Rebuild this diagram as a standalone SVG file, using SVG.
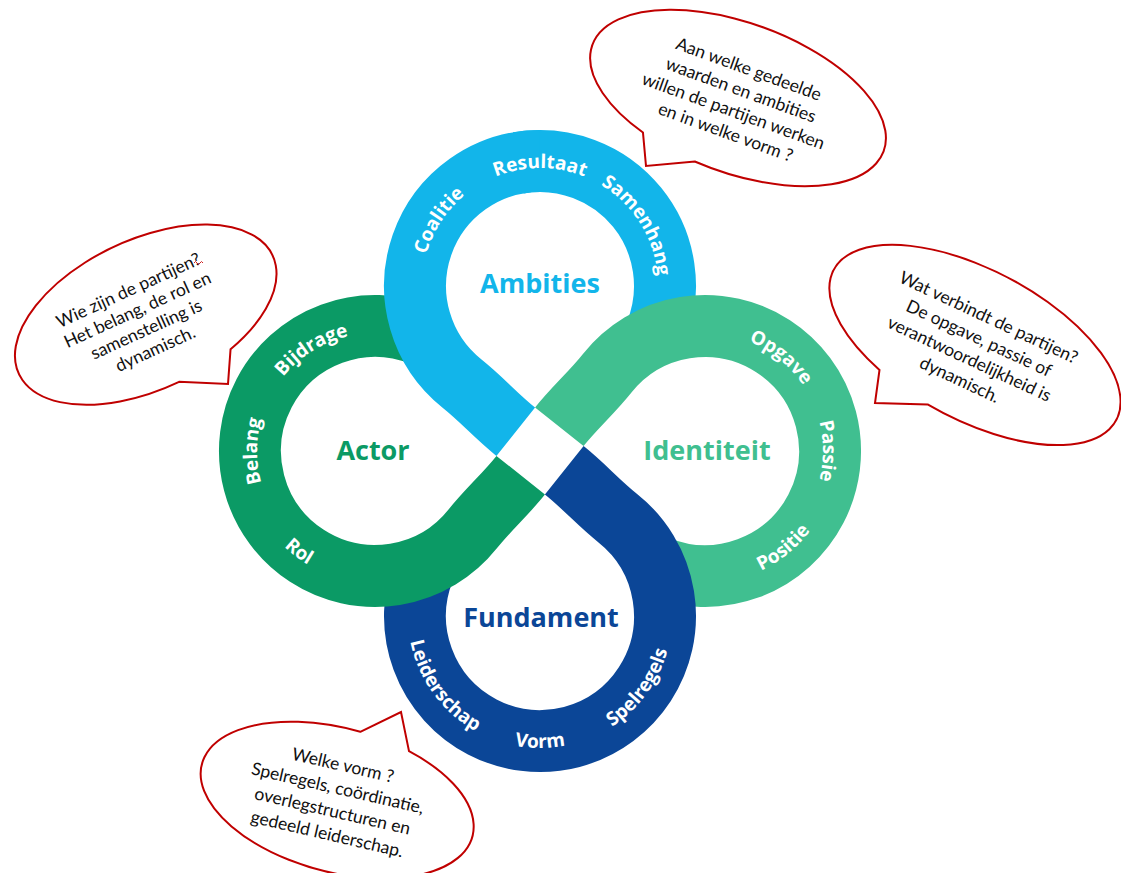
<svg xmlns="http://www.w3.org/2000/svg" xmlns:xlink="http://www.w3.org/1999/xlink" width="1121" height="873" viewBox="0 0 1121 873">
<style>
  .band{fill:none;stroke-width:62;stroke-linecap:butt}
  .amb{stroke:#12b5ea}
  .ide{stroke:#40bf90}
  .act{stroke:#0b9a65}
  .fun{stroke:#0b4697}
  .al{font-family:"Open Sans","Noto Sans",sans-serif;font-weight:700;font-size:19px;fill:#fff;text-anchor:middle}
  .title{font-family:"Open Sans","Noto Sans",sans-serif;font-weight:700;font-size:27px;text-anchor:middle}
  .bubble{fill:#fff;stroke:#c00000;stroke-width:2;stroke-linejoin:miter}
  .btxt{font-family:Lato,"Liberation Sans",sans-serif;font-size:17.5px;fill:#111;text-anchor:middle}
</style>
<defs>
  <path id="leaf" d="M 115.9 -118.2 A 125 125 0 1 0 -77.8 -67.2 C -58.2 -51.6 -43.8 -34.9 -24.26 -19.3"/>
  <path id="t-coalitie" d="M 445.76 357.01 A 118 118 0 0 1 566.55 171.02"/>
  <path id="t-resultaat" d="M 429.11 245.64 A 118 118 0 0 1 650.89 245.64"/>
  <path id="t-samenhang" d="M 515.47 170.58 A 118 118 0 0 1 632.98 358.65"/>
  <path id="t-bijdrage" d="M 259.58 475.53 A 118 118 0 0 1 447.65 358.02"/>
  <path id="t-belang" d="M 334.64 561.88 A 118 118 0 0 1 334.64 340.12"/>
  <path id="t-rol" d="M 248.77 412.40 A 132 132 0 0 0 446.89 561.71"/>
  <path id="t-opgave" d="M 644.23 349.85 A 118 118 0 0 1 816.57 489.42"/>
  <path id="t-passie" d="M 745.36 340.12 A 118 118 0 0 1 745.36 561.88"/>
  <path id="t-positie" d="M 637.02 564.15 A 132 132 0 0 0 829.81 408.02"/>
  <path id="t-leiderschap" d="M 430.57 542.19 A 132 132 0 0 0 576.38 742.89"/>
  <path id="t-vorm" d="M 415.96 661.14 A 132 132 0 0 0 664.04 661.14"/>
  <path id="t-spelregels" d="M 503.62 742.89 A 132 132 0 0 0 649.43 542.19"/>
</defs>

<g id="ambities-underlap" transform="translate(540 451)">
  <path class="band amb" d="M -21.7 -288.1 A 125 125 0 0 1 115.9 -118.2"/>
</g>

<g id="node-identiteit">
  <use href="#leaf" class="band ide" transform="translate(540 451) rotate(90)"/>
  <text class="title" x="707" y="460" fill="#40bf90">Identiteit</text>
  <text class="al"><textPath href="#t-opgave" startOffset="50%">Opgave</textPath></text>
  <text class="al"><textPath href="#t-passie" startOffset="50%">Passie</textPath></text>
  <text class="al"><textPath href="#t-positie" startOffset="50%">Positie</textPath></text>
</g>

<g id="node-fundament">
  <use href="#leaf" class="band fun" transform="translate(540 451) rotate(180)"/>
  <text class="title" x="541" y="627" fill="#0b4697">Fundament</text>
  <text class="al"><textPath href="#t-leiderschap" startOffset="50%">Leiderschap</textPath></text>
  <text class="al"><textPath href="#t-vorm" startOffset="50%">Vorm</textPath></text>
  <text class="al"><textPath href="#t-spelregels" startOffset="50%">Spelregels</textPath></text>
</g>

<g id="node-actor">
  <use href="#leaf" class="band act" transform="translate(540 451) rotate(270)"/>
  <text class="title" x="373" y="460" fill="#0b9a65">Actor</text>
  <text class="al"><textPath href="#t-bijdrage" startOffset="50%">Bijdrage</textPath></text>
  <text class="al"><textPath href="#t-belang" startOffset="50%">Belang</textPath></text>
  <text class="al"><textPath href="#t-rol" startOffset="50%">Rol</textPath></text>
</g>

<g id="node-ambities">
  <path class="band amb" transform="translate(540 451)" d="M 0 -290 A 125 125 0 0 0 -77.8 -67.2 C -58.2 -51.6 -43.8 -34.9 -24.26 -19.3"/>
  <text class="title" x="540" y="293" fill="#12b5ea">Ambities</text>
  <text class="al"><textPath href="#t-coalitie" startOffset="50%">Coalitie</textPath></text>
  <text class="al"><textPath href="#t-resultaat" startOffset="50%">Resultaat</textPath></text>
  <text class="al"><textPath href="#t-samenhang" startOffset="50%">Samenhang</textPath></text>
</g>

<g id="bubble-ambities">
  <path class="bubble" d="M 694.79 161.49 A 155 75 20 1 0 642.96 132.52 L 646 166 Z"/>
  <g transform="translate(737 101) rotate(20)">
    <text class="btxt" x="0" y="-28.1">Aan welke gedeelde</text>
    <text class="btxt" x="0" y="-5.7">waarden en ambities</text>
    <text class="btxt" x="0" y="16.7">willen de partijen werken</text>
    <text class="btxt" x="0" y="39.1">en in welke vorm ?</text>
  </g>
</g>

<g id="bubble-actor">
  <path class="bubble" d="M 179.1 381.86 A 140 75 -25 1 1 230.55 349.24 L 228 384 Z"/>
  <g transform="translate(142 320) rotate(-24.5)">
    <text class="btxt" x="0" y="-26.7">Wie zijn de partijen?</text>
    <text class="btxt" x="0" y="-5.2">Het belang, de rol en</text>
    <text class="btxt" x="0" y="16.3">samenstelling is</text>
    <text class="btxt" x="0" y="37.8">dynamisch.</text>
  </g>
  <path d="M 194 263 q 1.5 -3 3 0 t 3 0 t 3 0" fill="none" stroke="#d02020" stroke-width="1"/>
</g>

<g id="bubble-identiteit">
  <path class="bubble" d="M 927.6 404.4 A 160 75 28 1 0 879.5 369.9 L 875 403 Z"/>
  <g transform="translate(974 349) rotate(25)">
    <text class="btxt" x="0" y="-28.8">Wat verbindt de partijen?</text>
    <text class="btxt" x="0" y="-5.9">De opgave, passie of</text>
    <text class="btxt" x="0" y="17">verantwoordelijkheid is</text>
    <text class="btxt" x="0" y="39.9">dynamisch.</text>
  </g>
</g>

<g id="bubble-fundament">
  <path class="bubble" d="M 360.3 731.8 L 401 712 L 409.0 751.2 A 140 72 15 1 1 360.3 731.8 Z"/>
  <g transform="translate(335 800) rotate(13)">
    <text class="btxt" x="0" y="-29.7">Welke vorm ?</text>
    <text class="btxt" x="0" y="-6.2">Spelregels, coördinatie,</text>
    <text class="btxt" x="0" y="17.3">overlegstructuren en</text>
    <text class="btxt" x="0" y="40.8">gedeeld leiderschap.</text>
  </g>
</g>
</svg>
